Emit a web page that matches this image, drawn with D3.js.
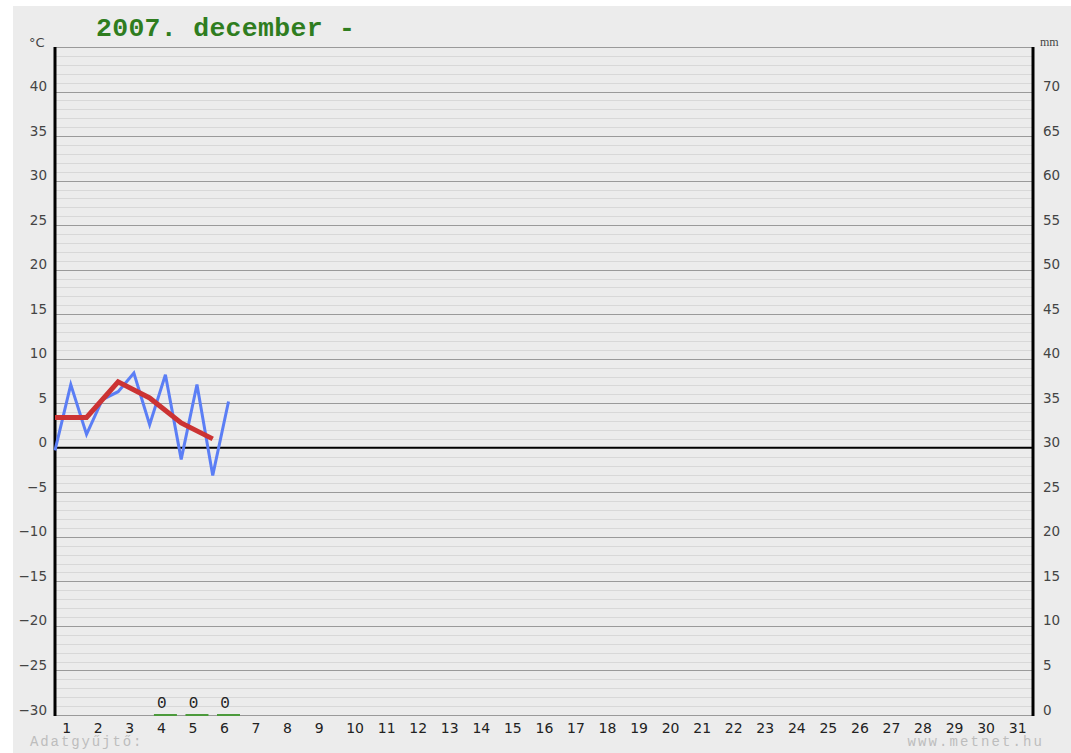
<!DOCTYPE html>
<html><head><meta charset="utf-8">
<script src="https://cdn.jsdelivr.net/npm/d3@7"></script>
<style>body{margin:0;background:#fff}</style>
</head><body>
<script>
// ---- data ----
const title = "2007. december -";
const days = d3.range(1, 32);
// temperature every 12 hours (t in days from start of month)
const tempTimes = [0, 0.5, 1, 1.5, 2, 2.5, 3, 3.5, 4, 4.5, 5, 5.5];
const tempValues = [-0.3, 7.1, 1.5, 5.4, 6.3, 8.4, 2.6, 8.2, -1.3, 7.1, -3.1, 5.2];
// daily mean
const meanTimes = [0, 1, 2, 3, 4, 5];
const meanValues = [3.4, 3.4, 7.4, 5.6, 2.8, 1.0];
// precipitation (mm)
const precipDays = [4, 5, 6];
const precipValues = [0, 0, 0];
const tempTicks = [-30, -25, -20, -15, -10, -5, 0, 5, 10, 15, 20, 25, 30, 35, 40];
const mmTicks = [0, 5, 10, 15, 20, 25, 30, 35, 40, 45, 50, 55, 60, 65, 70];

const W = 1071, H = 753;
const L = 55, R = 1033, T = 47, B = 715;
const svg = d3.select("body").append("svg").attr("width", W).attr("height", H);
svg.append("rect").attr("x", 13).attr("y", 6).attr("width", W - 13).attr("height", H - 6).attr("fill", "#ececec");

const x = d3.scaleLinear().domain([0, 31]).range([L, R]);
const y = d3.scaleLinear().domain([-30, 45]).range([B, T]);
const yR = d3.scaleLinear().domain([0, 75]).range([B, T]);

// minor grid
const g = svg.append("g");
g.selectAll("line.minor").data(d3.range(-29, 45).filter(v => v % 5 !== 0)).join("line")
  .attr("x1", L).attr("x2", R).attr("y1", d => Math.round(y(d)) + 0.5).attr("y2", d => Math.round(y(d)) + 0.5)
  .attr("stroke", "#d8d8d8").attr("stroke-width", 1);
g.selectAll("line.major").data(d3.range(-30, 46, 5).filter(v => v !== 0)).join("line")
  .attr("x1", L).attr("x2", R).attr("y1", d => Math.round(y(d)) + 0.5).attr("y2", d => Math.round(y(d)) + 0.5)
  .attr("stroke", "#9a9a9a").attr("stroke-width", 1);
// zero line
svg.append("line").attr("x1", L).attr("x2", R).attr("y1", y(0)).attr("y2", y(0)).attr("stroke", "#000").attr("stroke-width", 2);

// frame
svg.append("line").attr("x1", L).attr("x2", L).attr("y1", T).attr("y2", B + 1).attr("stroke", "#000").attr("stroke-width", 3);
svg.append("line").attr("x1", R).attr("x2", R).attr("y1", T).attr("y2", B + 1).attr("stroke", "#000").attr("stroke-width", 3);

// left axis
const yAxis = d3.axisLeft(y).tickValues(tempTicks).tickSize(0).tickPadding(0).tickFormat(d => d < 0 ? "\u2212" + Math.abs(d) : d);
const ga = svg.append("g").attr("transform", `translate(${L - 8},-1)`).call(yAxis);
ga.select(".domain").remove();
ga.selectAll("text").attr("font-family", "DejaVu Sans, Verdana, sans-serif").attr("font-size", 13.5).attr("fill", "#444").attr("dy", 0);

// right axis
const yAxisR = d3.axisRight(yR).tickValues(mmTicks).tickSize(0).tickPadding(0);
const gr = svg.append("g").attr("transform", `translate(${R + 10},-1)`).call(yAxisR);
gr.select(".domain").remove();
gr.selectAll("text").attr("font-family", "DejaVu Sans, Verdana, sans-serif").attr("font-size", 13.5).attr("fill", "#444").attr("dy", 0);

// x day labels
svg.append("g").selectAll("text").data(days).join("text")
  .attr("x", d => x(d - 0.5) - 8.5).attr("y", B + 18)
  .attr("font-family", "DejaVu Sans, Verdana, sans-serif").attr("font-size", 14).attr("fill", "#222")
  .text(d => d);

// units
svg.append("text").attr("x", 29).attr("y", 47).attr("font-family", "DejaVu Sans, sans-serif").attr("font-size", 13).attr("fill", "#444").text("°C");
svg.append("text").attr("x", 1040).attr("y", 46).attr("font-family", "Liberation Serif, serif").attr("font-size", 12).attr("fill", "#444").text("mm");

// title
svg.append("text").attr("x", 96).attr("y", 36).attr("font-family", "Liberation Mono, Courier New, monospace")
  .attr("font-weight", "bold").attr("font-size", 26.5).attr("letter-spacing", 0.3).attr("fill", "#2f7d1f").text(title);

// precipitation
svg.append("g").selectAll("line").data(precipDays).join("line")
  .attr("x1", (d, i) => x(d - 0.5) - 11.5).attr("x2", (d, i) => x(d - 0.5) + 11.5)
  .attr("y1", (d, i) => yR(precipValues[i])).attr("y2", (d, i) => yR(precipValues[i]))
  .attr("stroke", "#4c9a3c").attr("stroke-width", 2);
svg.append("g").selectAll("text").data(precipDays).join("text")
  .attr("x", d => x(d - 0.5) - 3.5).attr("y", (d, i) => yR(precipValues[i]) - 7).attr("text-anchor", "middle")
  .attr("font-family", "Liberation Mono, monospace").attr("font-size", 16).attr("fill", "#222")
  .text((d, i) => precipValues[i]);

// temperature line
const line = d3.line().x(d => x(d[0])).y(d => y(d[1]));
svg.append("path").datum(tempTimes.map((t, i) => [t, tempValues[i]]))
  .attr("d", line).attr("fill", "none").attr("stroke", "#5b7ef5").attr("stroke-width", 3);
svg.append("path").datum(meanTimes.map((t, i) => [t, meanValues[i]]))
  .attr("d", line).attr("fill", "none").attr("stroke", "#cc3333").attr("stroke-width", 5);

// footer
svg.append("text").attr("x", 30).attr("y", 746).attr("font-family", "Liberation Mono, Courier New, monospace")
  .attr("font-size", 14).attr("letter-spacing", 1.9).attr("fill", "#bdbdbd").text("Adatgyűjtő:");
svg.append("text").attr("x", 1044).attr("y", 746).attr("text-anchor", "end").attr("font-family", "Liberation Mono, Courier New, monospace")
  .attr("font-size", 14).attr("letter-spacing", 2.1).attr("fill", "#bdbdbd").text("www.metnet.hu");
</script>
</body></html>
